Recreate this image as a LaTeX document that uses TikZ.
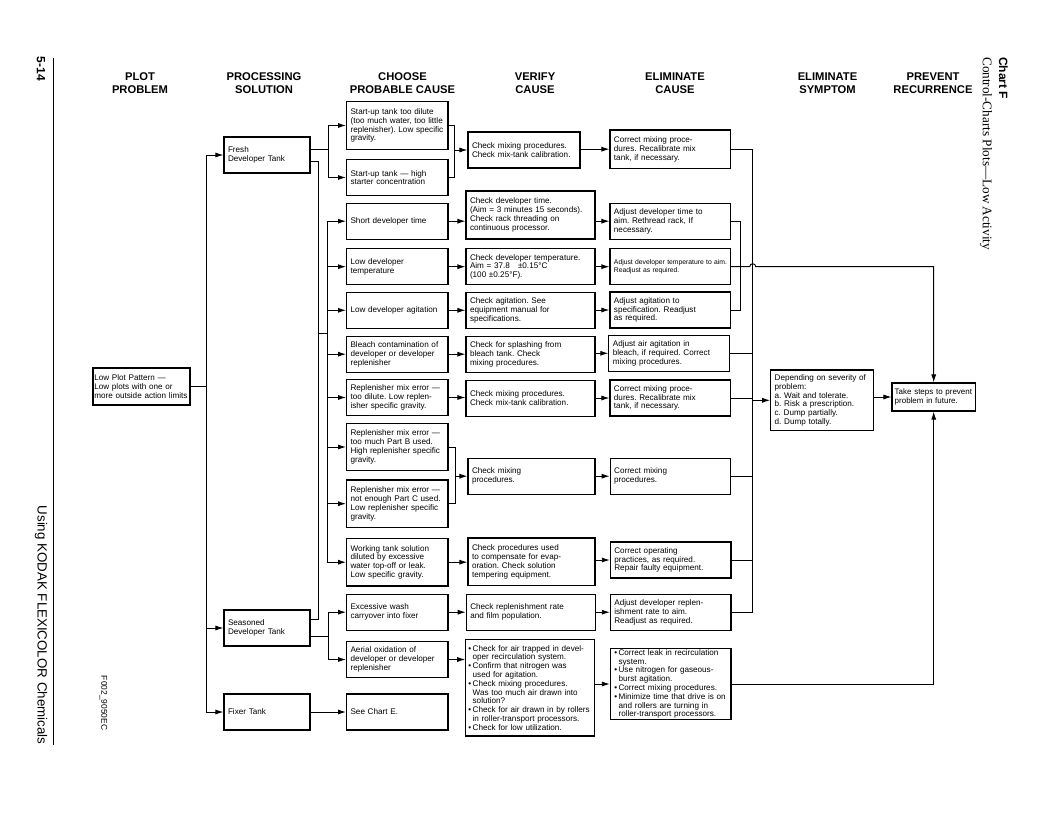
\documentclass[tikz,border=0pt]{standalone}
\usepackage{fontspec}
\setmainfont{Liberation Sans}
\newfontfamily\titleserif{Liberation Serif}
\usetikzlibrary{arrows.meta}
\usetikzlibrary{calc}
\frenchspacing
\newcommand{\bul}{\textbullet\,}
\newcommand{\ind}{\hphantom{\textbullet\,}}
\tikzset{
  head/.style={font=\fontsize{8.4}{9.8}\selectfont\bfseries,align=center},
  box/.style={draw,line width=0.85pt,align=left,inner xsep=3pt,inner ysep=1pt,
    minimum height=27pt,font=\fontsize{6.1}{6.6}\selectfont,
    execute at begin node={\rightskip=0pt plus 1fil minus 30pt\hyphenpenalty=10000\relax}},
  plotbox/.style={box,inner xsep=1pt,text width=70.75pt,minimum height=27.75pt},
  solbox/.style={box,text width=58.5pt},
  causebox/.style={box,text width=70.1pt},
  verbox/.style={box,text width=90.75pt},
  elimbox/.style={box,text width=84.5pt},
  tall/.style={minimum height=35.6pt},
  link/.style={line width=0.7pt},
  flow/.style={link,-{Latex[length=6pt,width=3.8pt]}},
}
\begin{document}
\begin{tikzpicture}[x=0.75pt,y=-0.75pt]
\useasboundingbox (0,0) rectangle (1056,816);
% page frame texts
\draw[line width=0.6pt] (53.3,58) -- (53.3,745);
\node[rotate=-90,font=\fontsize{9}{9}\selectfont\bfseries] (pagenum) at (41,69) {5-14};
\node[rotate=-90,font=\fontsize{10}{10}\selectfont] (booktitle) at (41,625) {Using KODAK FLEXICOLOR Chemicals};
\node[rotate=-90,font=\fontsize{6.3}{6.3}\selectfont] (figid) at (103.5,703) {F002\_9050EC};
\node[rotate=-90,anchor=west,font=\fontsize{9}{9}\selectfont\bfseries,inner sep=0pt] (chart) at (1003.5,57) {Chart F};
\node[rotate=-90,anchor=west,font=\titleserif\fontsize{9.9}{9.9}\selectfont,inner sep=0pt] (charttitle) at (986,57) {Control-Charts Plots—Low Activity};

% column heads
\node[head] (hplot) at (140,83.5) {PLOT\\PROBLEM};
\node[head] (hsol) at (264,83.5) {PROCESSING\\SOLUTION};
\node[head] (hcause) at (402.5,83.5) {CHOOSE\\PROBABLE CAUSE};
\node[head] (hverify) at (535,83.5) {VERIFY\\CAUSE};
\node[head] (helim) at (675,83.5) {ELIMINATE\\CAUSE};
\node[head] (hsym) at (827.5,83.5) {ELIMINATE\\SYMPTOM};
\node[head] (hprev) at (933,83.5) {PREVENT\\RECURRENCE};

% problem and solutions
\node[plotbox] (plot) at (141.5,386.5) {Low Plot Pattern —\\Low plots with one or\\more outside action limits};
\node[solbox] (fresh) at (267,155) {Fresh\\Developer Tank};
\node[solbox] (seasoned) at (267,628) {Seasoned\\Developer Tank};
\node[solbox] (fixer) at (267,712) {Fixer Tank};

% probable causes
\node[causebox,tall] (c1) at (397.3,125.5) {Start-up tank too dilute\\(too much water, too little\\replenisher). Low specific\\gravity.};
\node[causebox] (c2) at (397.3,177.5) {Start-up tank — high\\starter concentration};
\node[causebox] (c3) at (397.3,221.2) {Short developer time};
\node[causebox] (c4) at (397.3,266.7) {Low developer\\temperature};
\node[causebox] (c5) at (397.3,310.3) {Low developer agitation};
\node[causebox] (c6) at (397.3,354.2) {Bleach contamination of\\developer or developer\\replenisher};
\node[causebox] (c7) at (397.3,397.5) {Replenisher mix error —\\too dilute. Low replen-\\isher specific gravity.};
\node[causebox,tall] (c8) at (397.3,447) {Replenisher mix error —\\too much Part B used.\\High replenisher specific\\gravity.};
\node[causebox,tall] (c9) at (397.3,503.7) {Replenisher mix error —\\not enough Part C used.\\Low replenisher specific\\gravity.};
\node[causebox,tall] (c10) at (397.3,562.2) {Working tank solution\\diluted by excessive\\water top-off or leak.\\Low specific gravity.};
\node[causebox] (c11) at (397.3,612.2) {Excessive wash\\carryover into fixer};
\node[causebox] (c12) at (397.3,659.5) {Aerial oxidation of\\developer or developer\\replenisher};
\node[causebox] (c13) at (397.3,712) {See Chart E.};

% verify cause
\node[verbox,text width=78pt] (v1) at (524,150) {Check mixing procedures.\\Check mix-tank calibration.};
\node[verbox,minimum height=36pt] (v3) at (530.5,215) {Check developer time.\\(Aim = 3 minutes 15 seconds).\\Check rack threading on\\continuous processor.};
\node[verbox] (v4) at (530.5,266.7) {Check developer temperature.\\Aim = 37.8\hspace{6pt}±0.15°C\\(100 ±0.25°F).};
\node[verbox] (v5) at (530.5,310.3) {Check agitation. See\\equipment manual for\\specifications.};
\node[verbox] (v6) at (530.5,354.2) {Check for splashing from\\bleach tank. Check\\mixing procedures.};
\node[verbox] (v7) at (530.5,398.3) {Check mixing procedures.\\Check mix-tank calibration.};
\node[verbox,text width=89.25pt] (v8) at (531.5,476.2) {Check mixing\\procedures.};
\node[verbox,text width=89.25pt,tall] (v10) at (531.5,561.7) {Check procedures used\\to compensate for evap-\\oration. Check solution\\tempering equipment.};
\node[verbox] (v11) at (530.8,612.2) {Check replenishment rate\\and film population.};
\node[verbox,inner xsep=2pt,text width=92.75pt,minimum height=72.5pt] (v12) at (530.3,687.7) {\bul Check for air trapped in devel-\\\ind oper recirculation system.\\\bul Confirm that nitrogen was\\\ind used for agitation.\\\bul Check mixing procedures.\\\ind Was too much air drawn into\\\ind solution?\\\bul Check for air drawn in by rollers\\\ind in roller-transport processors.\\\bul Check for low utilization.};

% eliminate cause
\node[elimbox,minimum height=28.7pt] (e1) at (670.3,149.2) {Correct mixing proce-\\dures. Recalibrate mix\\tank, if necessary.};
\node[elimbox] (e3) at (670.3,221.2) {Adjust developer time to\\aim. Rethread rack, If\\necessary.};
\node[elimbox,font=\fontsize{5.1}{6.6}\selectfont] (e4) at (670.3,266.7) {Adjust developer temperature to aim.\\Readjust as required.};
\node[elimbox] (e5) at (670.3,310) {Adjust agitation to\\specification. Readjust\\as required.};
\node[elimbox] (e6) at (669.2,353.3) {Adjust air agitation in\\bleach, if required. Correct\\mixing procedures.};
\node[elimbox] (e7) at (670.3,398) {Correct mixing proce-\\dures. Recalibrate mix\\tank, if necessary.};
\node[elimbox] (e8) at (670.5,476.2) {Correct mixing\\procedures.};
\node[elimbox] (e10) at (670.7,560) {Correct operating\\practices, as required.\\Repair faulty equipment.};
\node[elimbox] (e11) at (670.7,612.2) {Adjust developer replen-\\ishment rate to aim.\\Readjust as required.};
\node[elimbox,minimum height=52.5pt] (e12) at (670.7,684) {\bul Correct leak in recirculation\\\ind system.\\\bul Use nitrogen for gaseous-\\\ind burst agitation.\\\bul Correct mixing procedures.\\\bul Minimize time that drive is on\\\ind and rollers are turning in\\\ind roller-transport processors.};

% symptom and prevention
\node[box,text width=71pt,minimum height=45.5pt] (s) at (822,400.3) {Depending on severity of\\problem:\\a. Wait and tolerate.\\b. Risk a prescription.\\c. Dump partially.\\d. Dump totally.};
\node[box,inner xsep=2pt,text width=58.5pt,minimum height=21pt,font=\fontsize{6}{6.6}\selectfont] (p) at (933.7,397) {Take steps to prevent\\problem in future.};

% bus points
\coordinate (busC) at (327.3,333.3);
\coordinate (busB) at (740,266.7);
\coordinate (busA) at (752.7,400);

% problem to tanks
\draw[link] (plot.east) -- ++(15.5,0) coordinate (tk);
\foreach \t in {fresh,seasoned,fixer}
  \draw[flow] (tk) |- (\t.west);

% tanks to causes
\draw[link] ($(fresh.east)+(0,-5.7)$) -- ++(17.7,0) coordinate (fA);
\foreach \c in {c1,c2}
  \draw[flow] (fA) |- (\c.west);
\draw[link] ($(fresh.east)+(0,6.7)$) -| ($(seasoned.east)+(8.3,-8.7)$) -- ($(seasoned.east)+(0,-8.7)$);
\draw[link] (busC) -- ++(-9,0);
\draw[link] (busC |- c3.west) -- (busC |- c10.west);
\foreach \c in {c3,c4,c5,c6,c7,c8,c9,c10}
  \draw[flow] (busC |- \c.west) -- (\c.west);
\draw[link] ($(seasoned.east)+(0,8)$) -- ++(18.3,0) coordinate (sA);
\foreach \c in {c11,c12}
  \draw[flow] (sA) |- (\c.west);
\draw[flow] (fixer) -- (c13);

% causes to verify
\draw[link] (c1.east) -- ++(6,0) coordinate (mA) |- (c2.east);
\draw[flow] (mA |- v1.west) -- (v1.west);
\draw[link] (c8.east) -- ++(7,0) coordinate (mB) |- (c9.east);
\draw[flow] (mB |- v8.west) -- (v8.west);
\foreach \c/\v in {c3/v3,c4/v4,c5/v5,c6/v6,c7/v7,c10/v10,c11/v11,c12/v12}
  \draw[flow] (\c.east) -- (\c.east -| \v.west);

% verify to eliminate
\foreach \v/\e in {v1/e1,v3/e3,v4/e4,v5/e5,v6/e6,v7/e7,v8/e8,v10/e10,v11/e11,v12/e12}
  \draw[flow] (\e.west -| \v.east) -- (\e.west);

% eliminate to symptom / prevention
\foreach \e in {e1,e6,e7,e8,e10,e11}
  \draw[link] (\e.east) -- (\e.east -| busA);
\draw[link] (busA |- e1.east) -- (busA |- e11.east);
\draw[flow] (busA |- s.west) -- (s.west);
\draw[link] (e3.east) -| (busB |- e5.east) -- (e5.east);
\draw[flow] (e4.east) -- ($(e4.east -| busA)+(-3,0)$) arc[start angle=180,end angle=0,radius=2.25pt] -| (p.north);
\draw[flow] (e12.east) -| (p.south);
\draw[flow] (p.west -| s.east) -- (p.west);
\end{tikzpicture}
\end{document}
